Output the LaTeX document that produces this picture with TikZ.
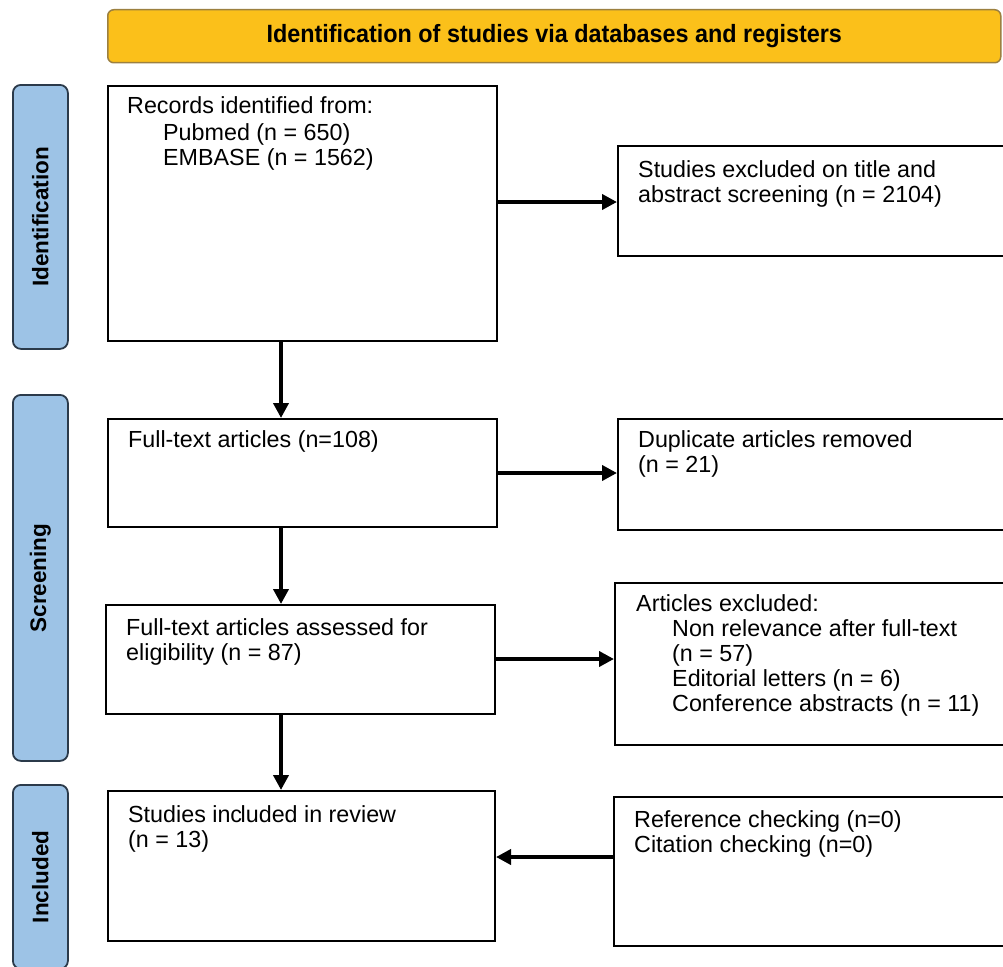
\documentclass[tikz,border=0pt]{standalone}
\usepackage{fontspec}
\setmainfont{Liberation Sans}
\newfontfamily\narrowfont{Liberation Sans}[FakeStretch=0.935]
\usetikzlibrary{arrows.meta}
\definecolor{banner}{HTML}{FBC01A}
\definecolor{bannerline}{HTML}{9C8040}
\definecolor{side}{HTML}{9DC3E6}
\definecolor{sideline}{HTML}{2B3A4A}
\tikzset{
  box/.style={draw=black, line width=2pt, rectangle, anchor=north west, inner sep=0pt},
  txt/.style={anchor=north west, align=left, inner sep=0pt, font=\fontsize{23.3}{25}\selectfont},
  sidebox/.style={draw=sideline, fill=side, line width=1.8pt, rounded corners=8pt, anchor=north west, inner sep=0pt, minimum width=55pt},
  sidetxt/.style={rotate=90, inner sep=0pt, font=\bfseries\fontsize{22.5}{26}\selectfont},
  arr/.style={line width=4pt, -{Triangle[length=15pt,width=15pt]}}
}
\begin{document}
\begin{tikzpicture}[x=1pt,y=-1pt]
\clip (0,0) rectangle (1003,966);
\fill[white] (0,0) rectangle (1003,966);
% banner
\node[draw=bannerline, fill=banner, line width=1.5pt, rounded corners=6pt, anchor=north west,
      minimum width=893pt, minimum height=53pt, inner sep=0pt,
      font=\narrowfont\bfseries\fontsize{25}{28}\selectfont] (ban) at (107,9)
      {Identification of studies via databases and registers};
% side labels
\node[sidebox, minimum height=264pt] (sid1) at (12,84) {};
\node[sidetxt] (sidt1) at (sid1.center) {Identification};
\node[sidebox, minimum height=366pt] (sid2) at (12,394) {};
\node[sidetxt] (sidt2) at (sid2.center) {Screening};
\node[sidebox, minimum height=184pt] (sid3) at (12,784) {};
\node[sidetxt] (sidt3) at (sid3.center) {Included};
% boxes
\node[box, minimum width=389pt, minimum height=255pt] (rec) at (107,85) {};
\node[box, minimum width=400pt, minimum height=110pt] (exc) at (617,145) {};
\node[box, minimum width=389pt, minimum height=108pt] (ft) at (107,418) {};
\node[box, minimum width=400pt, minimum height=111pt] (dup) at (617,418) {};
\node[box, minimum width=389pt, minimum height=109pt] (ass) at (105,604) {};
\node[box, minimum width=400pt, minimum height=162pt] (art) at (614,582) {};
\node[box, minimum width=387pt, minimum height=150pt] (inc) at (107,790) {};
\node[box, minimum width=400pt, minimum height=149pt] (ref) at (613,796) {};
% texts
\node[txt] (rect) at (127,96) {Records identified from:\\[2pt]\hspace*{36pt}Pubmed (n = 650)\\\hspace*{36pt}EMBASE (n = 1562)};
\node[txt] (exct) at (638,160) {Studies excluded on title and\\abstract screening (n = 2104)};
\node[txt] (ftt) at (128,430) {Full-text articles (n=108)};
\node[txt] (dupt) at (638,430) {Duplicate articles removed\\(n = 21)};
\node[txt] (asst) at (126,618) {Full-text articles assessed for\\eligibility (n = 87)};
\node[txt] (artt) at (636,594) {Articles excluded:\\\hspace*{36pt}Non relevance after full-text\\\hspace*{36pt}(n = 57)\\\hspace*{36pt}Editorial letters (n = 6)\\\hspace*{36pt}Conference abstracts (n = 11)};
\node[txt] (inct) at (128,805) {Studies inc\kern-1.5pt luded in review\\(n = 13)};
\node[txt] (reft) at (634,810) {Reference checking (n=0)\\Citation checking (n=0)};
% arrows
\coordinate (ax) at (281,0);
\coordinate (h1) at (0,202);
\coordinate (h2) at (0,473);
\coordinate (h3) at (0,659);
\coordinate (h4) at (0,857);
\draw[arr] (ax |- rec.south) -- (ax |- ft.north);
\draw[arr] (ax |- ft.south) -- (ax |- ass.north);
\draw[arr] (ax |- ass.south) -- (ax |- inc.north);
\draw[arr] (rec.east |- h1) -- (exc.west |- h1);
\draw[arr] (ft.east |- h2) -- (dup.west |- h2);
\draw[arr] (ass.east |- h3) -- (art.west |- h3);
\draw[arr] (ref.west |- h4) -- (inc.east |- h4);
\end{tikzpicture}
\end{document}
